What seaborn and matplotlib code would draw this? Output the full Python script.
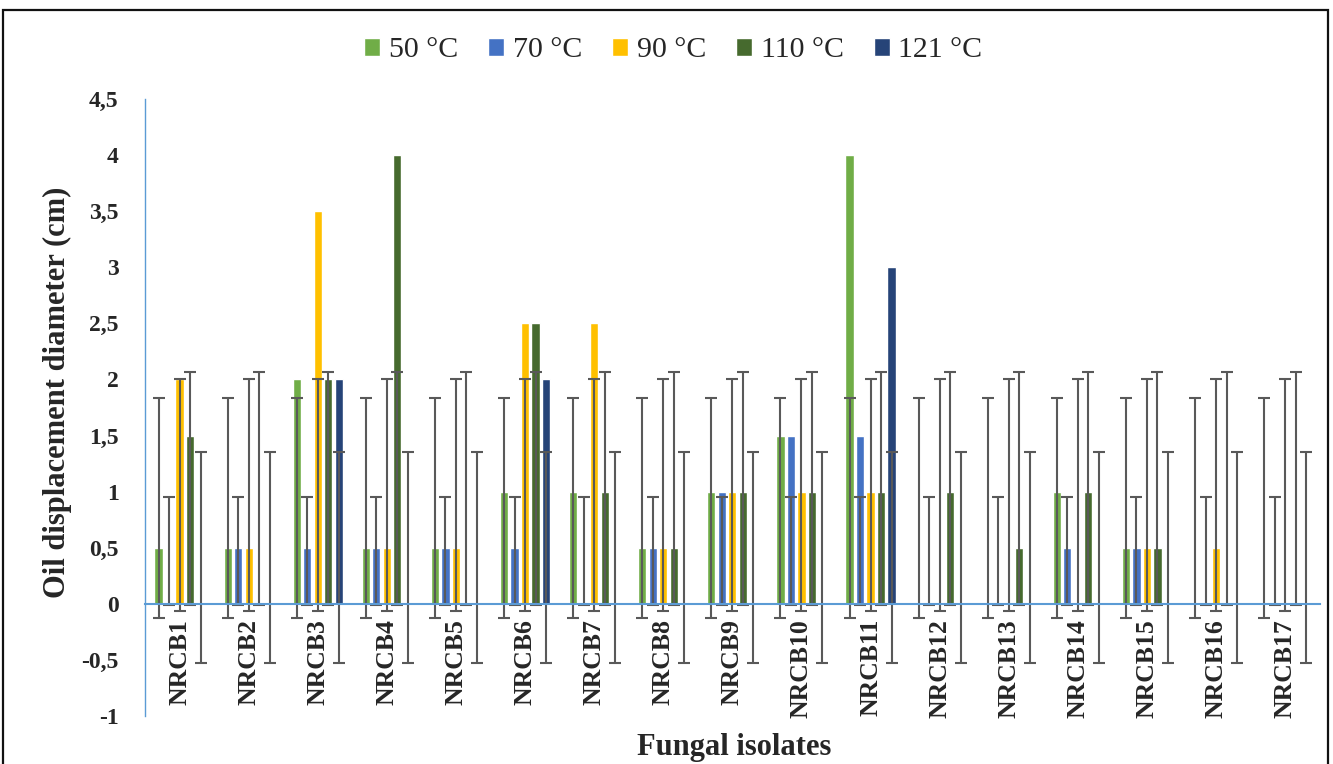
import numpy as np
import pandas as pd
import matplotlib
matplotlib.use("Agg")
import matplotlib.pyplot as plt
from matplotlib.patches import Rectangle
import seaborn as sns

# data (oil displacement diameter, cm)
isolates = [f"NRCB{i}" for i in range(1, 18)]
temps = ["50 °C", "70 °C", "90 °C", "110 °C", "121 °C"]
t50 = [0.5, 0.5, 2, 0.5, 0.5, 1, 1, 0.5, 1, 1.5, 4, 0, 0, 1, 0.5, 0, 0]
t70 = [0, 0.5, 0.5, 0.5, 0.5, 0.5, 0, 0.5, 1, 1.5, 1.5, 0, 0, 0.5, 0.5, 0, 0]
t90 = [2, 0.5, 3.5, 0.5, 0.5, 2.5, 2.5, 0.5, 1, 1, 1, 0, 0, 0, 0.5, 0.5, 0]
t110 = [1.5, 0, 2, 4, 0, 2.5, 1, 0.5, 1, 1, 1, 1, 0.5, 1, 0.5, 0, 0]
t121 = [0, 0, 2, 0, 0, 2, 0, 0, 0, 0, 3, 0, 0, 0, 0, 0, 0]
series = [t50, t70, t90, t110, t121]
colors = ["#70AD47", "#4472C4", "#FFC000", "#466A2E", "#264478"]

df = pd.DataFrame({
    "Isolate": isolates * len(temps),
    "Temperature": [t for t in temps for _ in isolates],
    "Diameter": [v for s in series for v in s],
})

sns.set_theme(style="white")
plt.rcParams["font.family"] = ["Liberation Serif", "DejaVu Serif"]
plt.rcParams["font.weight"] = "bold"

fig = plt.figure(figsize=(13.33, 7.64), dpi=100)
ax = fig.add_axes([0.1088, 0.0628, 0.8812, 0.8076])

sns.barplot(data=df, x="Isolate", y="Diameter", hue="Temperature",
            palette=colors, saturation=1, width=0.76, gap=0.22,
            errorbar=None, ax=ax)

# Excel-style "standard deviation" error bars: centred on the series mean
for cont, vals in zip(ax.containers, series):
    xs = [p.get_x() + p.get_width() / 2 for p in cont.patches]
    mean = np.mean(vals)
    sd = np.std(vals, ddof=1)
    ax.errorbar(xs, [mean] * len(xs), yerr=sd, fmt="none",
                ecolor="#595959", elinewidth=1.5, capsize=4.3,
                capthick=1.5, zorder=5)

ax.set_xlim(-0.5, 16.5)
ax.set_ylim(-1, 4.5)
yt = np.arange(-1, 4.51, 0.5)
ax.set_yticks(yt)
ax.set_yticklabels([f"{v:g}".replace(".", ",") for v in yt])
ax.tick_params(axis="y", length=0, pad=19, labelsize=17)
ax.tick_params(axis="x", length=0, pad=11, labelsize=18.5, labelrotation=90)

for s in ["top", "right"]:
    ax.spines[s].set_visible(False)
ax.spines["bottom"].set_position(("data", 0))
ax.spines["bottom"].set_color("#5B9BD5")
ax.spines["bottom"].set_linewidth(1.5)
ax.spines["bottom"].set_zorder(6)
ax.spines["left"].set_color("#5B9BD5")
ax.spines["left"].set_linewidth(1)

ax.set_xlabel("")
ax.set_ylabel("")
fig.text(0.043, 0.487, "Oil displacement diameter (cm)", rotation=90,
         ha="center", va="center", fontsize=22, fontweight="bold")
fig.text(0.551, 0.022, "Fungal isolates", ha="center", va="center",
         fontsize=22, fontweight="bold")

handles, labels = ax.get_legend_handles_labels()
ax.legend(handles, labels, loc="center", bbox_to_anchor=(0.505, 0.934),
          bbox_transform=fig.transFigure, ncol=5, frameon=False,
          prop={"size": 21.5, "weight": "normal"},
          handlelength=0.55, handleheight=0.55,
          handletextpad=0.28, columnspacing=1.0)

fig.patches.append(Rectangle((0.002, -0.01), 0.994, 0.997, fill=False,
                             edgecolor="#111111", linewidth=1.6,
                             transform=fig.transFigure, figure=fig))

fig.savefig("out.png", dpi=100)
